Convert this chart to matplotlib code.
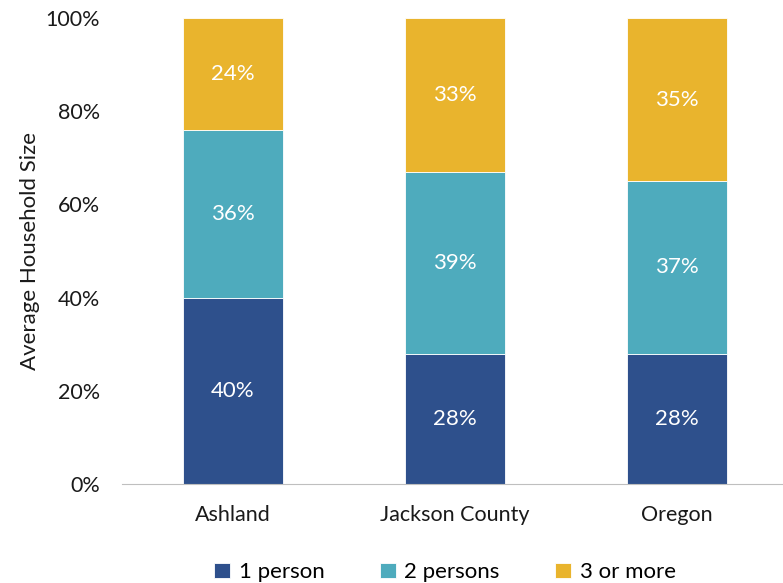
import matplotlib; matplotlib.use("Agg")
import matplotlib.pyplot as plt
import numpy as np

plt.rcParams['font.family'] = ['Lato', 'DejaVu Sans']

places = ["Ashland", "Jackson County", "Oregon"]
one_person = [40, 28, 28]
two_persons = [36, 39, 37]
three_more = [24, 33, 35]
series_names = ["1 person", "2 persons", "3 or more"]
yticks = [0, 20, 40, 60, 80, 100]

NAVY = "#2E508C"; TEAL = "#4EABBD"; GOLD = "#E9B42D"; TXT = "#1A1A1A"

fig = plt.figure(figsize=(7.83, 5.83), dpi=100)
ax = fig.add_axes([122/783, 99/583, 666/783, 466/583])

x = np.arange(len(places))
bottom = np.zeros(len(places))
for vals, col, name in zip([one_person, two_persons, three_more], [NAVY, TEAL, GOLD], series_names):
    bars = ax.bar(x, vals, 0.45, bottom=bottom, color=col, edgecolor="white", lw=0.6, label=name)
    for b, v, b0 in zip(bars, vals, bottom):
        ax.text(b.get_x() + b.get_width()/2, b0 + v/2, f"{v}%", ha="center", va="center",
                color="white", fontsize=16)
    bottom += vals

ax.set_xlim(-0.5, 2.5)
ax.set_ylim(0, 100)
ax.set_yticks(yticks)
ax.set_yticklabels([f"{t}%" for t in yticks], fontsize=15.5, color=TXT)
ax.set_xticks(x)
ax.set_xticklabels(places, fontsize=15.5, color=TXT)
ax.tick_params(axis="both", length=0)
ax.tick_params(axis="x", pad=15)
ax.tick_params(axis="y", pad=16)
ax.set_ylabel("Average Household Size", fontsize=16, color=TXT, labelpad=4)
for s in ["top", "right", "left"]:
    ax.spines[s].set_visible(False)
ax.spines["bottom"].set_color("#BFBFBF")

ax.legend(loc="upper center", bbox_to_anchor=(0.5 - 0.015, -0.125), ncol=3, frameon=False,
          fontsize=16, handlelength=0.7, handleheight=0.7, handletextpad=0.4, columnspacing=2.5)

fig.savefig("out.png", dpi=100)
